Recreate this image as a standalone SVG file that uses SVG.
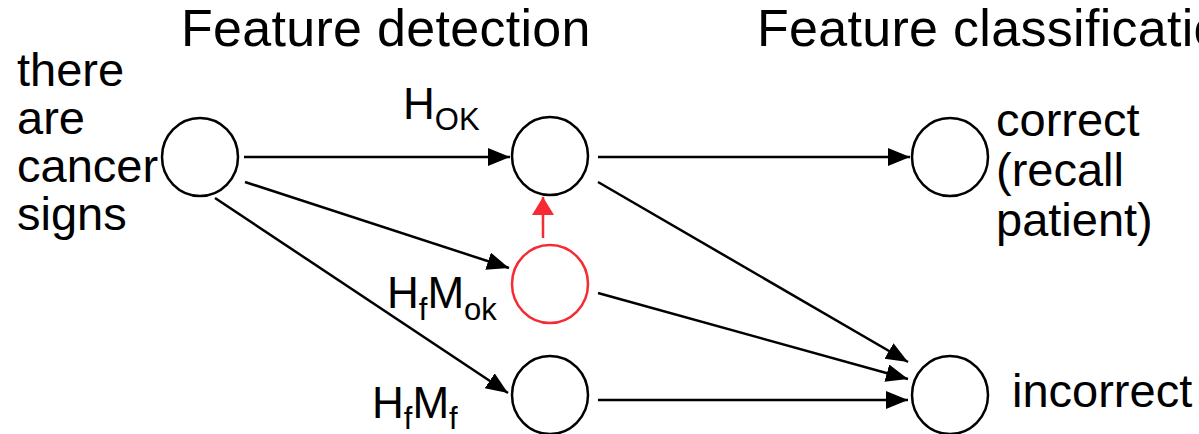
<svg xmlns="http://www.w3.org/2000/svg" width="1199" height="434" viewBox="0 0 1199 434">
<style>
text{font-family:"Liberation Sans",Arial,Helvetica,sans-serif;fill:#000}
.t{font-size:52px;letter-spacing:0.3px}
.l{font-size:47px}
.h{font-size:44px}
.s{font-size:31px}
.n{fill:#fff;stroke:#000;stroke-width:2.5}
.r{fill:#fff;stroke:#f52a33;stroke-width:2.5}
.c{stroke:#000;stroke-width:2.5;fill:none;marker-end:url(#ah)}
.cr{stroke:#f52a33;stroke-width:2.5;fill:none;marker-end:url(#ahr)}
</style>
<defs>
<marker id="ah" markerUnits="userSpaceOnUse" markerWidth="24" markerHeight="20" refX="22" refY="9" orient="auto"><path d="M0,0 L22,9 L0,18 z" fill="#000"/></marker>
<marker id="ahr" markerUnits="userSpaceOnUse" markerWidth="24" markerHeight="24" refX="18" refY="11" orient="auto"><path d="M0,0 L18,11 L0,22 z" fill="#f52a33"/></marker>
</defs>
<text class="t" x="181" y="46">Feature detection</text>
<text class="t" x="757" y="46">Feature classification</text>
<g id="connectors">
<line class="c" x1="244" y1="157" x2="510" y2="157"/>
<line class="c" x1="598" y1="157" x2="910" y2="157"/>
<line class="c" x1="245" y1="182" x2="509" y2="268"/>
<line class="c" x1="215" y1="198" x2="508" y2="393"/>
<line class="c" x1="598" y1="182" x2="908" y2="362"/>
<line class="c" x1="598" y1="293" x2="908" y2="379"/>
<line class="c" x1="598" y1="400" x2="908" y2="400"/>
<line class="cr" x1="543" y1="238" x2="543" y2="197"/>
</g>
<g id="source"><ellipse class="n" cx="200" cy="157" rx="38" ry="39"/>
<text class="l" x="17" y="86">there</text><text class="l" x="17" y="134">are</text><text class="l" x="17" y="182">cancer</text><text class="l" x="17" y="230">signs</text></g>
<g id="hok"><ellipse class="n" cx="550" cy="156" rx="38" ry="39"/>
<text x="403" y="119"><tspan class="h">H</tspan><tspan class="s" dy="11">OK</tspan></text></g>
<g id="correct"><ellipse class="n" cx="950" cy="157" rx="38" ry="39"/>
<text class="l" x="996" y="136">correct</text><text class="l" x="996" y="186">(recall</text><text class="l" x="996" y="236">patient)</text></g>
<g id="hfmok"><ellipse class="r" cx="550" cy="284" rx="38" ry="39"/>
<text x="387" y="308"><tspan class="h">H</tspan><tspan class="s" dy="12">f</tspan><tspan class="h" dy="-12">M</tspan><tspan class="s" dy="12">ok</tspan></text></g>
<g id="hfmf"><ellipse class="n" cx="550" cy="395" rx="38" ry="39"/>
<text x="372" y="418"><tspan class="h">H</tspan><tspan class="s" dy="11">f</tspan><tspan class="h" dy="-11">M</tspan><tspan class="s" dy="11">f</tspan></text></g>
<g id="incorrect"><ellipse class="n" cx="950" cy="395" rx="38" ry="39"/>
<text class="l" x="1012" y="407">incorrect</text></g>
</svg>
